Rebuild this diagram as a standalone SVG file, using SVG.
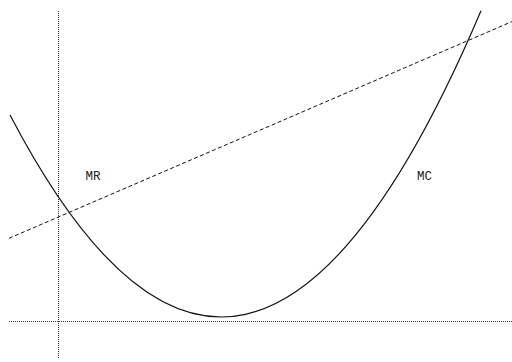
<svg xmlns="http://www.w3.org/2000/svg" width="512" height="362" viewBox="0 0 512 362">
<style>
.axis{stroke:#333;stroke-width:1;stroke-dasharray:1 1;fill:none}
.curve{stroke:#111;stroke-width:1.2;fill:none}
.dash{stroke:#111;stroke-width:1;stroke-dasharray:4 2.5;fill:none}
.lbl{font-family:"Liberation Mono","Courier New",monospace;font-size:12.5px;fill:#222}
</style>
<rect width="512" height="362" fill="#fff"/>
<g id="axes">
<line class="axis" x1="58.5" y1="11" x2="58.5" y2="358"/>
<line class="axis" x1="9" y1="321.5" x2="512" y2="321.5"/>
</g>
<g id="connectors">
<path id="MC-curve" class="curve" d="M10,115 Q245.5,565.7 481,10.8"/>
<line id="MR-line" class="dash" x1="9" y1="238.3" x2="512" y2="21.6"/>
</g>
<g id="MR"><text class="lbl" x="85.5" y="179.5">MR</text></g>
<g id="MC"><text class="lbl" x="417" y="179.5">MC</text></g>
</svg>
